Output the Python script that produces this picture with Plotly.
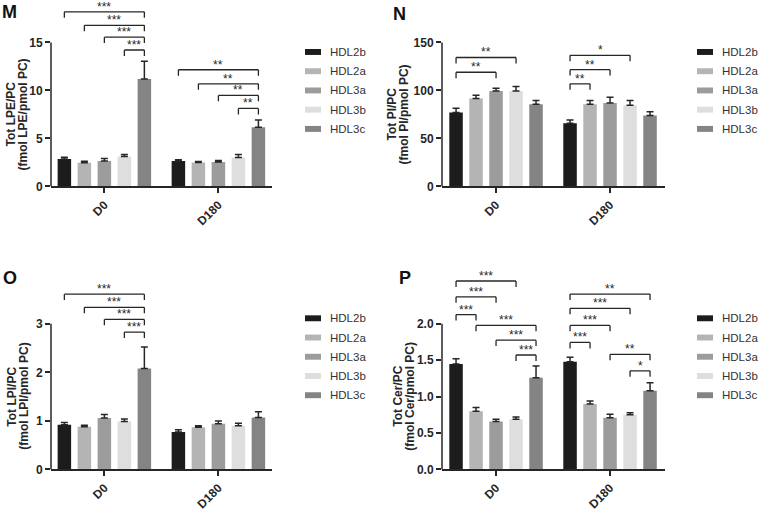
import plotly.graph_objects as go

W, H = 760, 512
FONT = "Liberation Sans, Arial, sans-serif"
INK = "#262626"

categories = ["D0", "D180"]
groups = ["HDL2b", "HDL2a", "HDL3a", "HDL3b", "HDL3c"]
colors = ["#1c1c1c", "#b4b4b4", "#9c9c9c", "#dedede", "#848484"]

# ---- panel M : Tot LPE/PC  (per series: [D0, D180])
m_mean = [[2.85, 2.65], [2.47, 2.50], [2.65, 2.55], [3.12, 3.00], [11.2, 6.15]]
m_err = [[0.20, 0.12], [0.15, 0.10], [0.25, 0.15], [0.20, 0.33], [1.85, 0.78]]
m_ticks = [0, 5, 10, 15]
m_brackets = [(0, 0, 4, 18.19, "***"), (0, 1, 4, 16.78, "***"), (0, 2, 4, 15.55, "***"),
              (0, 3, 4, 14.21, "***"), (1, 0, 4, 12.15, "**"), (1, 1, 4, 10.69, "**"),
              (1, 2, 4, 9.48, "**"), (1, 3, 4, 8.12, "**")]

# ---- panel N : Tot PI/PC
n_mean = [[77.0, 65.8], [91.5, 85.5], [99.3, 87.0], [99.5, 84.5], [85.5, 73.8]]
n_err = [[4.5, 3.3], [3.5, 4.0], [3.0, 6.0], [4.5, 5.0], [4.0, 4.0]]
n_ticks = [0, 50, 100, 150]
n_brackets = [(0, 0, 3, 134.3, "**"), (0, 0, 2, 118.9, "**"), (1, 0, 3, 136.6, "*"),
              (1, 0, 2, 121.6, "**"), (1, 0, 1, 106.9, "**")]

# ---- panel O : Tot LPI/PC
o_mean = [[0.92, 0.77], [0.88, 0.87], [1.06, 0.94], [0.99, 0.90], [2.08, 1.07]]
o_err = [[0.05, 0.05], [0.03, 0.03], [0.07, 0.06], [0.05, 0.05], [0.44, 0.12]]
o_ticks = [0, 1, 2, 3]
o_brackets = [(0, 0, 4, 3.61, "***"), (0, 1, 4, 3.34, "***"), (0, 2, 4, 3.09, "***"),
              (0, 3, 4, 2.83, "***")]

# ---- panel P : Tot Cer/PC
p_mean = [[1.45, 1.48], [0.80, 0.90], [0.66, 0.71], [0.69, 0.75], [1.26, 1.08]]
p_err = [[0.07, 0.06], [0.05, 0.04], [0.03, 0.05], [0.03, 0.03], [0.16, 0.11]]
p_ticks = [0.0, 0.5, 1.0, 1.5, 2.0]
p_brackets = [(0, 0, 3, 2.588, "***"), (0, 0, 2, 2.371, "***"), (0, 0, 1, 2.127, "***"),
              (0, 1, 4, 1.978, "***"), (0, 2, 4, 1.775, "***"), (0, 3, 4, 1.572, "***"),
              (1, 0, 4, 2.408, "**"), (1, 0, 3, 2.213, "***"), (1, 0, 2, 1.978, "***"),
              (1, 0, 1, 1.744, "***"), (1, 2, 4, 1.581, "**"), (1, 3, 4, 1.355, "*")]

panels = [
    dict(means=m_mean, errs=m_err, ticks=m_ticks, fmt="", brackets=m_brackets,
         title=("Tot LPE/PC", "(fmol LPE/pmol PC)"), left=51, right=272, bottom=189, top=0,
         tickpx=43, xr=[-0.468, 1.47], title_x=(11, 23), letter=("M", 9, 12), leg=(305, 52.7)),
    dict(means=n_mean, errs=n_err, ticks=n_ticks, fmt="", brackets=n_brackets,
         title=("Tot PI/PC", "(fmol PI/pmol PC)"), left=442, right=665, bottom=189, top=0,
         tickpx=43, xr=[-0.474, 1.482], title_x=(392, 404), letter=("N", 399, 14), leg=(697, 52.7)),
    dict(means=o_mean, errs=o_err, ticks=o_ticks, fmt="", brackets=o_brackets,
         title=("Tot LPI/PC", "(fmol LPI/pmol PC)"), left=51, right=272, bottom=476, top=270,
         tickpx=328.3, xr=[-0.468, 1.47], title_x=(12, 24), letter=("O", 10, 282), leg=(305, 322.7)),
    dict(means=p_mean, errs=p_err, ticks=p_ticks, fmt=".1f", brackets=p_brackets,
         title=("Tot Cer/PC", "(fmol Cer/pmol PC)"), left=442, right=665, bottom=476, top=270,
         tickpx=328.3, xr=[-0.474, 1.482], title_x=(398, 410), letter=("P", 405, 282), leg=(697, 322.7)),
]

BARGAP = 0.123
BARGROUPGAP = 0.325
slot = (1 - BARGAP) / len(groups)

fig = go.Figure()
shapes, annotations = [], []
layout_axes = {}

for k, p in enumerate(panels):
    sfx = "" if k == 0 else str(k + 1)
    xa, ya = "x" + sfx, "y" + sfx
    tmax = p["ticks"][-1]
    px_per_unit = (p["bottom"] - p["tickpx"]) / tmax
    ytop = (p["bottom"] - p["top"]) / px_per_unit

    for s, name in enumerate(groups):
        fig.add_trace(go.Bar(
            x=categories, y=p["means"][s], name=name, xaxis=xa, yaxis=ya,
            marker=dict(color=colors[s], line=dict(width=0)),
            error_y=dict(type="data", symmetric=False, array=p["errs"][s],
                         arrayminus=[0] * len(categories), color=INK, thickness=1.5, width=3.5),
            showlegend=False))

    layout_axes["xaxis" + sfx] = dict(
        domain=[p["left"] / W, p["right"] / W], anchor=ya, type="category",
        range=p["xr"], showgrid=False, zeroline=False, showline=True, linecolor=INK,
        linewidth=1.5, ticks="outside", ticklen=5, tickwidth=1.5, tickcolor=INK,
        tickangle=-45, tickfont=dict(family=FONT, size=12, color=INK, weight="bold"))
    layout_axes["yaxis" + sfx] = dict(
        domain=[1 - p["bottom"] / H, 1 - p["top"] / H], anchor=xa, range=[0, ytop],
        showgrid=False, zeroline=False, showline=False, tickmode="array",
        tickvals=p["ticks"], tickformat=p["fmt"], ticks="outside", ticklen=5,
        tickwidth=1.5, tickcolor=INK,
        tickfont=dict(family=FONT, size=12, color=INK, weight="bold"))

    # y axis line only over the tick span
    shapes.append(dict(type="line", xref=xa + " domain", yref=ya, x0=0, x1=0, y0=0, y1=tmax,
                       line=dict(color=INK, width=1.5)))

    # significance brackets
    drop = 6 / px_per_unit
    for (g, i, j, yv, lab) in p["brackets"]:
        x1 = g + (i - 2) * slot
        x2 = g + (j - 2) * slot
        for (a0, b0, a1, b1) in [(x1, yv - drop, x1, yv), (x1, yv, x2, yv), (x2, yv, x2, yv - drop)]:
            shapes.append(dict(type="line", xref=xa, yref=ya, x0=a0, y0=b0, x1=a1, y1=b1,
                               line=dict(color=INK, width=1.3)))
        annotations.append(dict(xref=xa, yref=ya, x=(x1 + x2) / 2, y=yv, text=lab,
                                showarrow=False, yanchor="bottom", yshift=-4,
                                font=dict(family=FONT, size=12, color=INK)))

    # y-axis title (two centred lines)
    ymid = (p["bottom"] + p["tickpx"]) / 2
    for line_txt, tx in zip(p["title"], p["title_x"]):
        annotations.append(dict(xref="paper", yref="paper", x=tx / W, y=1 - ymid / H,
                                text=line_txt, textangle=-90, showarrow=False,
                                xanchor="center", yanchor="middle",
                                font=dict(family=FONT, size=12, color=INK, weight="bold")))
    # panel letter
    lt, lx, ly = p["letter"]
    annotations.append(dict(xref="paper", yref="paper", x=lx / W, y=1 - ly / H, text=lt,
                            showarrow=False, xanchor="center", yanchor="middle",
                            font=dict(family=FONT, size=18, color="#111", weight="bold")))
    # legend
    lgx, lgy = p["leg"]
    for s, name in enumerate(groups):
        cy = lgy + s * 19.5
        shapes.append(dict(type="rect", xref="paper", yref="paper",
                           x0=lgx / W, x1=(lgx + 16) / W, y0=1 - (cy + 3) / H, y1=1 - (cy - 3) / H,
                           fillcolor=colors[s], line=dict(width=0)))
        annotations.append(dict(xref="paper", yref="paper", x=(lgx + 23) / W, y=1 - cy / H,
                                text=name, showarrow=False, xanchor="left", yanchor="middle",
                                font=dict(family=FONT, size=11.5, color="#333")))

fig.update_layout(
    width=W, height=H, margin=dict(l=0, r=0, t=0, b=0),
    paper_bgcolor="white", plot_bgcolor="white",
    barmode="group", bargap=BARGAP, bargroupgap=BARGROUPGAP,
    shapes=shapes, annotations=annotations, showlegend=False,
    font=dict(family=FONT, color=INK), **layout_axes)

fig.write_html("out.html", config={"displayModeBar": False},
               post_script="document.body.style.margin='0';")
